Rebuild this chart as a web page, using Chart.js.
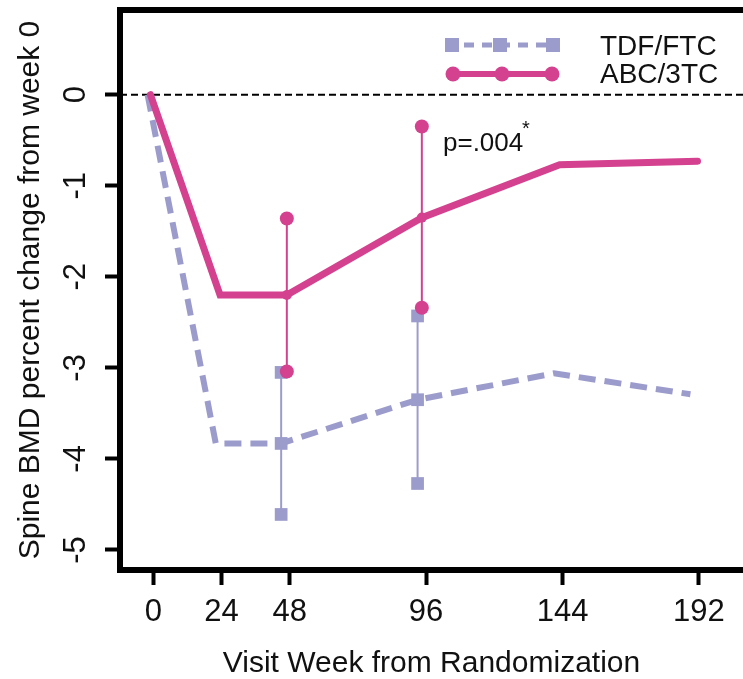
<!DOCTYPE html>
<html>
<head>
<meta charset="utf-8">
<script src="https://cdn.jsdelivr.net/npm/chart.js@4/dist/chart.umd.min.js"></script>
<style>
html,body{margin:0;padding:0;background:#fff;overflow:hidden;}
#wrap{position:relative;width:743px;height:679px;}
canvas{display:block;}
</style>
</head>
<body>
<div id="wrap"><canvas id="bmd"></canvas></div>
<script>
// tick labels
const weekTicks = [0, 24, 48, 96, 144, 192];
const pctTicks = [0, -1, -2, -3, -4, -5];

// TDF/FTC mean curve
const tdfWeeks = [-2, 22, 45, 93, 141, 189];
const tdfMean = [0, -3.83, -3.83, -3.35, -3.06, -3.29];
// ABC/3TC mean curve
const abcWeeks = [-1, 23.5, 47, 94.5, 143, 191.5];
const abcMean = [0, -2.2, -2.2, -1.35, -0.77, -0.73];

// error bars (low / high)
const tdfErrWeeks = [45, 93];
const tdfLow = [-4.61, -4.27];
const tdfHigh = [-3.05, -2.43];
const abcErrWeeks = [47, 94.5];
const abcLow = [-3.04, -2.34];
const abcHigh = [-1.36, -0.35];

const lav = "#9c9ccc";
const pink = "#d4418f";
const font = "'Liberation Sans', Arial, sans-serif";

function pts(xs, ys){ return xs.map((x,i)=>({x:x, y:ys[i]})); }

// drop the label padding chart.js adds around each axis
function noPad(s){ s.paddingLeft = 0; s.paddingRight = 0; s.paddingTop = 0; s.paddingBottom = 0; }

let datasets = [];

datasets.push({
  data: pts(tdfWeeks, tdfMean),
  borderColor: lav, backgroundColor: lav,
  borderWidth: 6, borderDash: [17, 9],
  pointStyle: "rect", pointRadius: [0,0,9,9,0,0], pointBorderWidth: 0,
  order: 4
});
tdfErrWeeks.forEach((w,i)=>{
  datasets.push({
    data: [{x:w, y:tdfLow[i]}, {x:w, y:tdfHigh[i]}],
    borderColor: lav, backgroundColor: lav, borderWidth: 2,
    pointStyle: "rect", pointRadius: 9, pointBorderWidth: 0,
    order: 3
  });
});
datasets.push({
  data: pts(abcWeeks, abcMean),
  borderColor: pink, backgroundColor: pink,
  borderWidth: 7, borderCapStyle: "round", borderJoinStyle: "miter",
  pointStyle: "circle", pointRadius: [0,0,5,5,0,0], pointBorderWidth: 0,
  order: 1
});
abcErrWeeks.forEach((w,i)=>{
  datasets.push({
    data: [{x:w, y:abcLow[i]}, {x:w, y:abcHigh[i]}],
    borderColor: pink, backgroundColor: pink, borderWidth: 2,
    pointStyle: "circle", pointRadius: 7, pointBorderWidth: 0,
    order: 0
  });
});

const zeroLine = {
  id: "zeroLine",
  beforeDatasetsDraw(chart){
    const ctx = chart.ctx, a = chart.chartArea;
    const y = chart.scales.y.getPixelForValue(0);
    ctx.save();
    ctx.strokeStyle = "#000";
    ctx.lineWidth = 2;
    ctx.setLineDash([7, 4]);
    ctx.beginPath();
    ctx.moveTo(a.left, y);
    ctx.lineTo(a.right, y);
    ctx.stroke();
    ctx.restore();
  }
};

const legendBox = {
  id: "legendBox",
  afterDraw(chart){
    const ctx = chart.ctx;
    ctx.save();
    // TDF/FTC sample
    ctx.strokeStyle = lav;
    ctx.fillStyle = lav;
    ctx.lineWidth = 5;
    ctx.setLineDash([10, 8]);
    ctx.beginPath();
    ctx.moveTo(446, 45);
    ctx.lineTo(560, 45);
    ctx.stroke();
    ctx.setLineDash([]);
    [452, 500, 553].forEach(x=>ctx.fillRect(x-7, 38, 14, 14));
    // ABC/3TC sample
    ctx.strokeStyle = pink;
    ctx.fillStyle = pink;
    ctx.lineWidth = 6;
    ctx.beginPath();
    ctx.moveTo(453, 74);
    ctx.lineTo(552, 74);
    ctx.stroke();
    [453, 502, 552].forEach(x=>{
      ctx.beginPath();
      ctx.arc(x, 74, 7.5, 0, Math.PI*2);
      ctx.fill();
    });
    ctx.fillStyle = "#111";
    ctx.font = "28px " + font;
    ctx.textBaseline = "middle";
    ctx.textAlign = "left";
    ctx.fillText("TDF/FTC", 600, 47);
    ctx.fillText("ABC/3TC", 600, 75);
    // p value note
    ctx.textBaseline = "alphabetic";
    ctx.font = "26px " + font;
    ctx.fillText("p=.004", 443, 151);
    ctx.font = "20px " + font;
    ctx.textAlign = "center";
    ctx.fillText("*", 526, 135);
    ctx.restore();
  }
};

new Chart(document.getElementById("bmd"), {
  type: "line",
  data: { datasets: datasets },
  options: {
    responsive: true,
    maintainAspectRatio: false,
    animation: false,
    layout: { padding: 0, autoPadding: false },
    plugins: { legend: { display: false }, tooltip: { enabled: false } },
    elements: { line: { tension: 0, fill: false } },
    scales: {
      x: {
        type: "linear", position: "bottom",
        min: -11.7, max: 207.5,
        afterBuildTicks: s => { s.ticks = weekTicks.map(v=>({value:v})); },
        afterFit: s => { s.height = 109; noPad(s); },
        border: { display: true, color: "#000", width: 6 },
        grid: { drawOnChartArea: false, drawTicks: true, tickLength: 15, tickWidth: 4, tickColor: "#000" },
        ticks: { color: "#111", padding: 9, maxRotation: 0, font: { family: font, size: 31 } },
        title: { display: true, text: "Visit Week from Randomization", color: "#111",
                 font: { family: font, size: 30, lineHeight: 1.0 }, padding: { top: 0, bottom: 0 } }
      },
      x2: {
        type: "linear", position: "top",
        min: -11.7, max: 207.5,
        afterFit: s => { s.height = 10; noPad(s); },
        border: { display: true, color: "#000", width: 6 },
        grid: { display: false },
        ticks: { display: false }
      },
      y: {
        type: "linear", position: "left",
        min: -5.22, max: 0.93,
        afterBuildTicks: s => { s.ticks = pctTicks.map(v=>({value:v})); },
        afterFit: s => { s.width = 120; noPad(s); },
        border: { display: true, color: "#000", width: 6 },
        grid: { drawOnChartArea: false, drawTicks: true, tickLength: 15, tickWidth: 4, tickColor: "#000" },
        ticks: { color: "#111", padding: 15, minRotation: 90, maxRotation: 90, crossAlign: "center",
                 font: { family: font, size: 31 }, callback: v => v < 0 ? "-" + Math.abs(v) : String(v) },
        title: { display: true, text: "Spine BMD percent change from week 0", color: "#111",
                 font: { family: font, size: 30 }, padding: { top: 13, bottom: 0 } }
      }
    }
  },
  plugins: [zeroLine, legendBox]
});
</script>
</body>
</html>
